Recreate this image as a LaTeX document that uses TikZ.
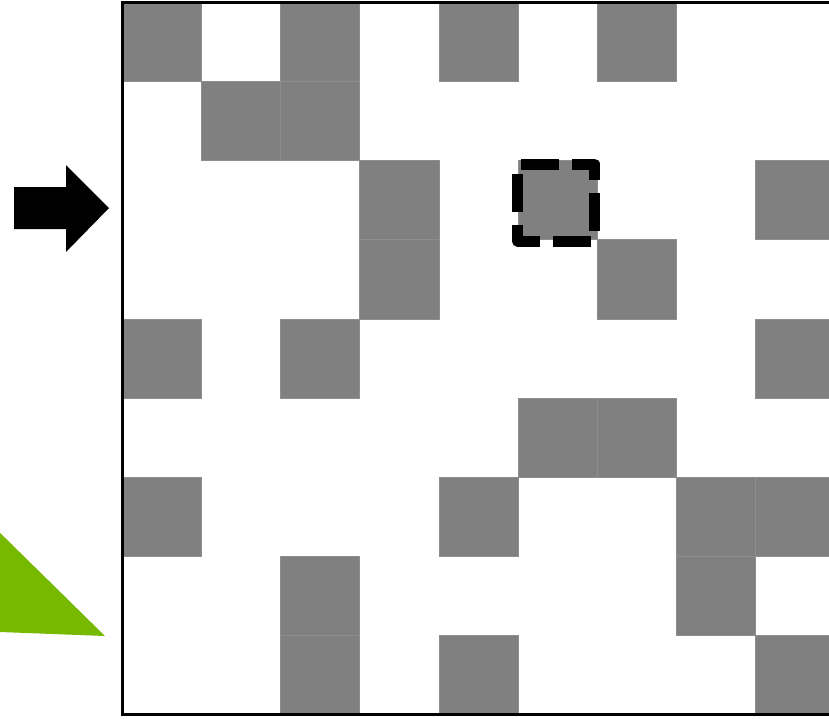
\documentclass[tikz,border=0pt]{standalone}
\definecolor{cellgrey}{RGB}{128,128,128}
\definecolor{seamgrey}{RGB}{142,142,142}
\definecolor{leafgreen}{RGB}{118,185,0}
\tikzset{
  cellbox/.style={fill=cellgrey, draw=seamgrey, line width=0.6},
  gridframe/.style={draw=black, line width=3},
  focusbox/.style={draw=black, line width=11, dash pattern=on 38 off 13.33, line join=round},
}
\begin{document}
\begin{tikzpicture}[x=1pt,y=-1pt]
\useasboundingbox (0,0) rectangle (829,718);
\clip (0,0) rectangle (829,718);
\fill[white] (0,0) rectangle (829,718);
% grey cells
\foreach \c/\r in {0/0,2/0,4/0,6/0,1/1,2/1,3/2,5/2,8/2,3/3,6/3,0/4,2/4,8/4,5/5,6/5,0/6,4/6,7/6,8/6,2/7,7/7,2/8,4/8,8/8}
  \path[cellbox] ({122+\c*79.2},{2+\r*79.2}) rectangle ++(79.2,79.2);
% frame
\draw[gridframe] (122,2) rectangle (834.8,714.8);
% dashed focus square
\draw[focusbox] (521,164) -- (594.5,164) -- (594.5,241) -- (517.5,241) -- (517.5,164) -- cycle;
% black arrow
\fill[black] (14,187) -- (66,187) -- (66,165) -- (109,208) -- (66,252) -- (66,229) -- (14,229) -- cycle;
% green triangle
\fill[leafgreen] (-10,523) -- (105,636) -- (-10,631.6) -- cycle;
\end{tikzpicture}
\end{document}
